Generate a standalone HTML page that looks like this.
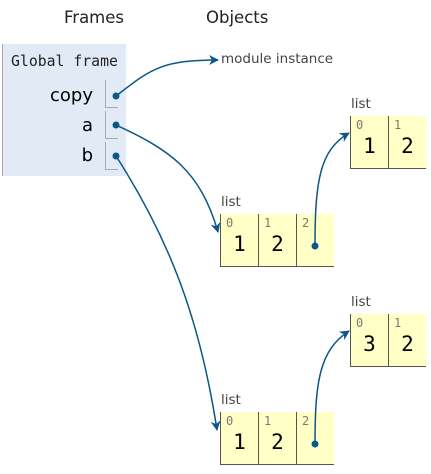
<!DOCTYPE html>
<html><head><style>
body{margin:0;width:431px;height:474px;background:#fff;position:relative;font-family:"Liberation Sans",sans-serif;overflow:hidden}
.a{position:absolute}
.mono{font-family:"DejaVu Sans Mono","Liberation Mono",monospace}
.lst{position:absolute;background:#ffffc6;display:flex;border-left:1px solid #555;border-bottom:1px solid #555}
.c{width:37px;height:52px;border-right:1px solid #555;position:relative}
.c:last-child{border-right:none}
.i{position:absolute;left:5px;top:2px;font-size:12px;color:#777;font-family:"DejaVu Sans Mono",monospace}
.v{position:absolute;left:0;right:0;top:18px;text-align:center;font-size:21px;font-family:"DejaVu Sans Mono",monospace}
.lbl{position:absolute;font-size:13.5px;color:#444;font-family:"DejaVu Sans",sans-serif}
</style></head><body>
<div class="a" style="left:64px;top:8px;font-size:16.5px;color:#222;font-family:'DejaVu Sans',sans-serif">Frames</div>
<div class="a" style="left:206px;top:8px;font-size:16.5px;color:#222;font-family:'DejaVu Sans',sans-serif">Objects</div>
<div class="a" style="left:2px;top:44px;width:123px;height:132px;background:#e2eaf6;border-left:1px solid #aaa"></div>
<div class="a mono" style="left:11px;top:53px;font-size:14.8px;color:#222">Global frame</div>
<div class="a" style="left:42px;top:85px;font-size:18px;font-family:'DejaVu Sans',sans-serif;width:51px;text-align:right">copy</div>
<div class="a" style="left:42px;top:115px;font-size:18px;font-family:'DejaVu Sans',sans-serif;width:51px;text-align:right">a</div>
<div class="a" style="left:42px;top:145px;font-size:18px;font-family:'DejaVu Sans',sans-serif;width:51px;text-align:right">b</div>
<div class="a" style="left:105px;top:80px;width:12px;height:27px;border-left:1px solid #aaa;border-bottom:1px solid #aaa"></div>
<div class="a" style="left:105px;top:111px;width:12px;height:27px;border-left:1px solid #aaa;border-bottom:1px solid #aaa"></div>
<div class="a" style="left:105px;top:142px;width:12px;height:27px;border-left:1px solid #aaa;border-bottom:1px solid #aaa"></div>
<div class="lbl" style="left:221px;top:51px">module instance</div>
<div class="lbl" style="left:351px;top:96px">list</div>
<div class="lst" style="left:350px;top:116px"><div class="c"><span class="i">0</span><span class="v">1</span></div><div class="c"><span class="i">1</span><span class="v">2</span></div></div>
<div class="lbl" style="left:221px;top:194px">list</div>
<div class="lst" style="left:220px;top:214px"><div class="c"><span class="i">0</span><span class="v">1</span></div><div class="c"><span class="i">1</span><span class="v">2</span></div><div class="c"><span class="i">2</span></div></div>
<div class="lbl" style="left:351px;top:294px">list</div>
<div class="lst" style="left:350px;top:314px"><div class="c"><span class="i">0</span><span class="v">3</span></div><div class="c"><span class="i">1</span><span class="v">2</span></div></div>
<div class="lbl" style="left:221px;top:392px">list</div>
<div class="lst" style="left:220px;top:412px"><div class="c"><span class="i">0</span><span class="v">1</span></div><div class="c"><span class="i">1</span><span class="v">2</span></div><div class="c"><span class="i">2</span></div></div>
<svg class="a" style="left:0;top:0" width="431" height="474">
<defs><marker id="m" markerWidth="10" markerHeight="10" refX="9" refY="5" orient="auto" markerUnits="userSpaceOnUse"><path d="M0,0 L10,5 L0,10 L3,5z" fill="#0b5787"/></marker></defs>
<g stroke="#0b5787" stroke-width="1.5" fill="none" marker-end="url(#m)">
<path d="M116,96 C150,70 160,60 218,60"/>
<path d="M116,125 C170,150 200,170 218,232"/>
<path d="M116,156 C170,240 200,320 217,430"/>
<path d="M315,246 C315,180 320,150 349,133"/>
<path d="M315,444 C315,380 320,350 349,331"/>
</g>
<g fill="#0b5787"><circle cx="116" cy="96" r="3.5"/><circle cx="116" cy="125" r="3.5"/><circle cx="116" cy="156" r="3.5"/><circle cx="315" cy="246" r="3.5"/><circle cx="315" cy="444" r="3.5"/></g>
</svg>
</body></html>
